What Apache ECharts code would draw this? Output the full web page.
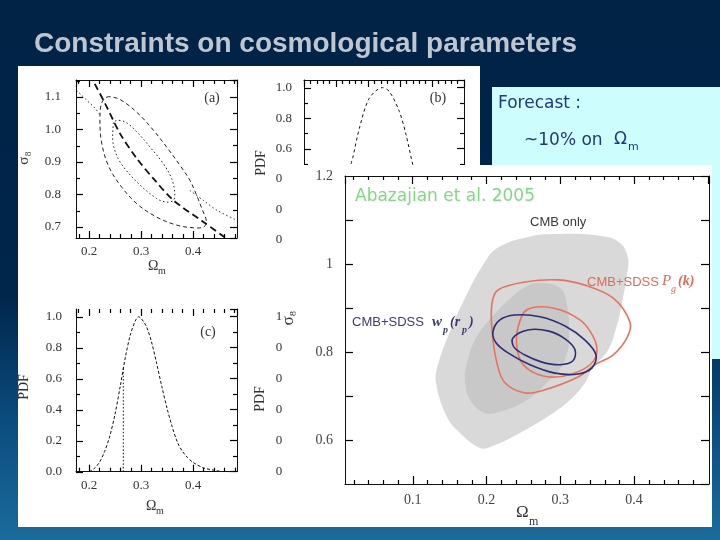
<!DOCTYPE html>
<html><head><meta charset="utf-8">
<script src="https://cdn.jsdelivr.net/npm/echarts@6/dist/echarts.min.js"></script>
<style>html,body{margin:0;padding:0;background:#002448;}#c{width:720px;height:540px;}</style>
</head><body><div id="c"></div>
<script>
// ================= DATA =================
const slideTitle = 'Constraints on cosmological parameters';
const forecastLine1 = 'Forecast :';
const forecastLine2 = '~10% on ';
const sourceLabel = 'Abazajian et al. 2005';

// Panel (a): sigma8 vs Omega_m
const aDegenOm = [0.211,0.231,0.260,0.292,0.324,0.362,0.420,0.465];
const aDegenS8 = [1.140,1.079,0.986,0.910,0.848,0.782,0.715,0.663];
const aOuterOm = [0.234,0.253,0.272,0.298,0.324,0.349,0.375,0.394,0.407,0.417,0.426,0.420,0.401,0.369,0.330,0.292,0.260,0.237,0.224,0.221,0.224];
const aOuterS8 = [1.099,1.096,1.079,1.043,0.997,0.946,0.889,0.843,0.797,0.756,0.715,0.699,0.697,0.705,0.730,0.771,0.828,0.889,0.961,1.033,1.079];
const aInnerOm = [0.250,0.269,0.292,0.317,0.343,0.359,0.365,0.362,0.349,0.330,0.292,0.260,0.247,0.246];
const aInnerS8 = [1.025,1.023,0.992,0.946,0.894,0.848,0.802,0.781,0.776,0.787,0.838,0.899,0.951,0.997];
const aTailUpOm = [0.176,0.196,0.212,0.222];
const aTailUpS8 = [1.120,1.089,1.064,1.043];
const aTailDnOm = [0.394,0.420,0.446,0.484];
const aTailDnS8 = [0.812,0.781,0.751,0.720];

// Panel (b): PDF vs sigma8 (visible part)
const bS8  = [0.745,0.748,0.752,0.773,0.804,0.845,0.867,0.898,0.919,0.940,0.945];
const bPdf = [0.46,0.508,0.536,0.733,0.93,1.0,0.974,0.843,0.69,0.493,0.46];

// Panel (c): PDF vs Omega_m
const cOm  = [0.20,0.21,0.22,0.23,0.24,0.25,0.26,0.27,0.28,0.29,0.295,0.30,0.31,0.32,0.33,0.34,0.35,0.36,0.37,0.38,0.39,0.40,0.42,0.44,0.46,0.48];
const cPdf = [0,0.02,0.06,0.13,0.23,0.37,0.55,0.74,0.89,0.98,1.0,0.99,0.94,0.84,0.70,0.55,0.41,0.29,0.19,0.13,0.09,0.06,0.025,0.01,0.0,0.0];
const cMarkOm = [0.266,0.266];
const cMarkPdf = [0,0.68];

// Overlay (Abazajian et al. 2005): sigma8 vs Omega_m
const grayOuterOm = [0.2955,0.3538,0.3809,0.3918,0.3904,0.3850,0.3768,0.3633,0.3443,0.3336,0.3132,0.2820,0.2454,0.2048,0.1912,0.1641,0.1465,0.1316,0.1343,0.1505,0.1709,0.1953,0.2142,0.2549];
const grayOuterS8 = [1.068,1.064,1.048,1.014,0.975,0.923,0.861,0.800,0.766,0.730,0.691,0.652,0.616,0.584,0.582,0.616,0.652,0.730,0.771,0.846,0.923,0.998,1.036,1.061];
const grayInnerOm = [0.2698,0.2996,0.3091,0.3119,0.3064,0.2969,0.2820,0.2549,0.2183,0.1980,0.1777,0.1709,0.1736,0.1844,0.2075,0.2346,0.2522];
const grayInnerS8 = [0.957,0.946,0.907,0.827,0.782,0.755,0.730,0.691,0.664,0.661,0.691,0.736,0.775,0.827,0.880,0.925,0.948];
const redOuterOm = [0.2156,0.2522,0.2969,0.3335,0.3714,0.3945,0.3904,0.3714,0.3470,0.3240,0.2793,0.2522,0.2251,0.2142,0.2075,0.2075];
const redOuterS8 = [0.941,0.959,0.964,0.952,0.923,0.868,0.832,0.793,0.771,0.743,0.714,0.707,0.730,0.775,0.850,0.911];
const redInnerOm = [0.2549,0.2901,0.3267,0.3443,0.3497,0.3403,0.3159,0.2888,0.2657,0.2481,0.2413,0.2427];
const redInnerS8 = [0.896,0.900,0.873,0.836,0.800,0.771,0.750,0.743,0.752,0.775,0.811,0.855];
const blueOuterOm = [0.2088,0.2183,0.2387,0.2726,0.3065,0.3336,0.3485,0.3431,0.3241,0.2929,0.2590,0.2292,0.2129];
const blueOuterS8 = [0.846,0.873,0.884,0.880,0.859,0.827,0.793,0.764,0.750,0.752,0.771,0.798,0.821];
const blueInnerOm = [0.2359,0.2563,0.2834,0.3065,0.3200,0.3173,0.2996,0.2752,0.2522,0.2373];
const blueInnerS8 = [0.832,0.850,0.848,0.830,0.805,0.780,0.771,0.777,0.793,0.811];

// Tick labels and tick marks
const omTicksPanel = [0.2,0.3,0.4];
const omMinorPanel = [0.18,0.22,0.24,0.26,0.28,0.32,0.34,0.36,0.38,0.42,0.44,0.46,0.48];
const s8TicksPanel = [0.7,0.8,0.9,1.0,1.1];
const s8MinorPanel = [0.75,0.85,0.95,1.05,1.15];
const pdfTicks = [0,0.2,0.4,0.6,0.8,1.0];
const pdfMinor = [0.1,0.3,0.5,0.7,0.9];
const s8TicksPdf = [0.7,0.8,0.9,1.0];
const omTicksBig = [0.1,0.2,0.3,0.4];
const omMinorBig = [0.02,0.04,0.06,0.08,0.12,0.14,0.16,0.18,0.22,0.24,0.26,0.28,0.32,0.34,0.36,0.38,0.42,0.44,0.46,0.48];
const s8TicksBig = [0.6,0.8,1.0,1.2];
const s8TickMarksBig = [0.6,0.7,0.8,0.9,1.0,1.1];

// ================= CHART =================
const zip = (xs, ys) => xs.map((x, i) => [x, ys[i]]);
const SERIF = "'Liberation Serif', 'DejaVu Serif', serif";
const SANS = "'Liberation Sans', Arial, sans-serif";
const DJ = "'DejaVu Sans', sans-serif";

const grids = [
  {left: 76, top: 80, width: 161, height: 158},
  {left: 304, top: 80, width: 160, height: 160},
  {left: 76, top: 309, width: 161, height: 162.7},
  {left: 304, top: 309, width: 160, height: 162.7},
  {left: 345, top: 176, width: 364, height: 308}
];

function fmt(list, f) {
  return v => list.some(t => Math.abs(t - v) < 1e-6) ? f(v) : '';
}
const f1 = v => v.toFixed(1);
const fBig = v => String(+v.toFixed(1));

// per direction per grid: [near axis (line + labels), far axis (line + inward ticks)]
function axisSet(dir, g, min, max, o) {
  const base = {type: 'value', gridIndex: g, min: min, max: max, z: o.z, splitLine: {show: false}};
  if (o.interval !== undefined) base.interval = o.interval;
  if (o.splitNumber !== undefined) base.splitNumber = o.splitNumber;
  const lineOn = {show: true, onZero: false, lineStyle: {color: '#111', width: 1}};
  const near = Object.assign({}, base, {
    position: dir === 'x' ? 'bottom' : 'left',
    axisLine: lineOn, axisTick: {show: false}, minorTick: {show: false},
    axisLabel: o.labels ? {
      show: true, margin: o.margin, color: o.labelColor || '#333',
      fontFamily: SERIF, fontSize: o.fontSize || 13, formatter: fmt(o.labels, o.f || f1)
    } : {show: false}
  });
  const far = Object.assign({}, base, {
    position: dir === 'x' ? 'top' : 'right',
    axisLine: o.hideFarLine ? {show: false, onZero: false} : lineOn,
    axisTick: {show: true, inside: true, length: o.tick || 7, lineStyle: {color: '#000', width: 1.2}},
    minorTick: {show: !!o.minor, splitNumber: o.minor || 5, length: 4, lineStyle: {color: '#000', width: 1.2}},
    axisLabel: {show: false}
  });
  return [near, far];
}

const xAxes = [].concat(
  axisSet('x', 0, 0.175, 0.4846, {z: 2, splitNumber: 3, minor: 5, labels: omTicksPanel, margin: 7}),
  axisSet('x', 1, 0.6, 1.1, {z: 2, interval: 0.1, minor: 5}),
  axisSet('x', 2, 0.175, 0.4846, {z: 2, splitNumber: 3, minor: 5, labels: omTicksPanel, margin: 7, hideFarLine: true}),
  axisSet('x', 3, 0.6, 1.1, {z: 2, interval: 0.1, minor: 5}),
  axisSet('x', 4, 0.0083, 0.5016, {z: 6, splitNumber: 5, minor: 5, tick: 8, labels: omTicksBig, margin: 9, fontSize: 14, labelColor: '#444'})
);
const yAxes = [].concat(
  axisSet('y', 0, 0.6655, 1.1517, {z: 2, splitNumber: 5, minor: 2, labels: s8TicksPanel, margin: 15}),
  axisSet('y', 1, 0, 1.05, {z: 2, interval: 0.2, minor: 2, labels: pdfTicks, margin: 12}),
  axisSet('y', 2, 0, 1.05, {z: 2, interval: 0.2, minor: 2, labels: pdfTicks, margin: 14}),
  axisSet('y', 3, 0, 1.05, {z: 2, interval: 0.2, minor: 2, labels: pdfTicks, margin: 12}),
  axisSet('y', 4, 0.5, 1.2, {z: 6, interval: 0.1, tick: 8, labels: s8TicksBig, margin: 12, fontSize: 14, labelColor: '#444', f: fBig})
);
const AX = g => 2 * g;

function shape(pts, g, z, style, closed, smooth) {
  return {
    type: 'custom', xAxisIndex: AX(g), yAxisIndex: AX(g), z: z, silent: true, clip: false,
    data: [pts[0]],
    renderItem: function (params, api) {
      const points = pts.map(p => api.coord(p));
      return {type: closed ? 'polygon' : 'polyline', shape: {points: points, smooth: smooth || 0}, style: style};
    }
  };
}
function curve(xs, ys, g, z, dash, width) {
  return {
    type: 'line', xAxisIndex: AX(g), yAxisIndex: AX(g), z: z, silent: true,
    data: zip(xs, ys), showSymbol: false, symbol: 'none', smooth: 0.3,
    lineStyle: {color: '#111', width: width || 1, type: dash}
  };
}
// inward tick marks on the bottom and left edges, placed through the axes' scales
function edgeTicks(g, z, xMaj, xMin, yMaj, yMin, lenMaj) {
  const yRef = yMaj[0], xRef = xMaj[0];
  return {
    type: 'custom', xAxisIndex: AX(g), yAxisIndex: AX(g), z: z, silent: true, clip: false,
    data: [[xRef, yRef]],
    renderItem: function (params, api) {
      const cs = params.coordSys;
      const bottom = cs.y + cs.height, left = cs.x;
      const kids = [];
      const st = {stroke: '#000', lineWidth: 1.2};
      const vx = (v, len) => {
        const x = Math.round(api.coord([v, yRef])[0]) + 0.5;
        kids.push({type: 'line', shape: {x1: x, y1: bottom, x2: x, y2: bottom - len}, style: st});
      };
      const hy = (v, len) => {
        const y = Math.round(api.coord([xRef, v])[1]) + 0.5;
        kids.push({type: 'line', shape: {x1: left, y1: y, x2: left + len, y2: y}, style: st});
      };
      xMaj.forEach(v => vx(v, lenMaj));
      xMin.forEach(v => vx(v, 4));
      yMaj.forEach(v => hy(v, lenMaj));
      yMin.forEach(v => hy(v, 4));
      return {type: 'group', children: kids};
    }
  };
}
const line = (c, w, dash) => ({fill: 'none', stroke: c, lineWidth: w, lineDash: dash || null});

const series = [
  // panel (a)
  shape(zip(aOuterOm, aOuterS8), 0, 3, line('#222', 1, [4, 3]), true, 0.35),
  shape(zip(aInnerOm, aInnerS8), 0, 3, line('#222', 1, [1.5, 2.5]), true, 0.35),
  shape(zip(aDegenOm, aDegenS8), 0, 3, line('#111', 1.8, [7, 4]), false, 0.3),
  shape(zip(aTailUpOm, aTailUpS8), 0, 3, line('#333', 1, [1.5, 2.5]), false, 0.3),
  shape(zip(aTailDnOm, aTailDnS8), 0, 3, line('#333', 1, [1.5, 2.5]), false, 0.3),
  edgeTicks(0, 4, omTicksPanel, omMinorPanel, s8TicksPanel, s8MinorPanel, 7),
  // panel (b)
  curve(bS8, bPdf, 1, 3, [3, 3], 1),
  edgeTicks(1, 4, s8TicksPdf, [], pdfTicks, pdfMinor, 7),
  // panel (c)
  curve(cOm, cPdf, 2, 3, [3, 2], 1),
  curve(cMarkOm, cMarkPdf, 2, 3, [1.5, 2], 1),
  edgeTicks(2, 4, omTicksPanel, omMinorPanel, pdfTicks, pdfMinor, 7),
  // overlay
  shape(zip(grayOuterOm, grayOuterS8), 4, 7, {fill: '#d9d9d9', stroke: null}, true, 0.4),
  shape(zip(grayInnerOm, grayInnerS8), 4, 8, {fill: '#c8c8c8', stroke: null}, true, 0.4),
  shape(zip(redOuterOm, redOuterS8), 4, 9, line('#e8735c', 1.6), true, 0.35),
  shape(zip(redInnerOm, redInnerS8), 4, 9, line('#e8735c', 1.6), true, 0.35),
  shape(zip(blueOuterOm, blueOuterS8), 4, 9, line('#2d2d7a', 1.6), true, 0.35),
  shape(zip(blueInnerOm, blueInnerS8), 4, 9, line('#2d2d7a', 1.6), true, 0.35),
  edgeTicks(4, 9, omTicksBig, omMinorBig, s8TickMarksBig, [], 8)
];

function txt(text, x, y, font, fill, z, opts) {
  opts = opts || {};
  const align = opts.align || 'left';
  return {
    type: 'text', x: x, y: y, z: z, rotation: opts.rotation || 0, silent: true,
    style: {text: text, font: font, fill: fill, textAlign: align, align: align,
            textVerticalAlign: 'middle', verticalAlign: 'middle'}
  };
}

const elements = [
  {type: 'rect', z: 0, silent: true, shape: {x: 18, y: 66, width: 462, height: 461}, style: {fill: '#ffffff'}},
  {type: 'rect', z: 0, silent: true, shape: {x: 492, y: 87, width: 228, height: 272}, style: {fill: '#cdfdfd'}},
  txt(slideTitle, 34, 44, 'bold 28px ' + SANS, '#bfc6ce', 1),
  txt(forecastLine1, 498, 104, '17px ' + DJ, '#203a7a', 1),
  txt(forecastLine2, 524, 141, '17px ' + DJ, '#203a7a', 1),
  txt('Ω', 614, 140, '17px ' + DJ, '#203a7a', 1),
  txt('m', 628, 147, '11px ' + DJ, '#203a7a', 1),
  // panel decorations
  txt('σ₈', 24, 158, '15px ' + SERIF, '#333', 3, {align: 'center', rotation: Math.PI / 2}),
  txt('Ω', 148, 266, '14px ' + SERIF, '#333', 3),
  txt('m', 158, 271, '10px ' + SERIF, '#333', 3),
  txt('(a)', 212, 98, '14px ' + SERIF, '#333', 3, {align: 'center'}),
  txt('PDF', 261, 163, '14px ' + SERIF, '#333', 3, {align: 'center', rotation: Math.PI / 2}),
  txt('(b)', 438, 98, '14px ' + SERIF, '#333', 3, {align: 'center'}),
  txt('PDF', 24, 387, '14px ' + SERIF, '#333', 3, {align: 'center', rotation: Math.PI / 2}),
  txt('Ω', 146, 506, '14px ' + SERIF, '#333', 3),
  txt('m', 156, 511, '10px ' + SERIF, '#333', 3),
  txt('(c)', 208, 332, '14px ' + SERIF, '#333', 3, {align: 'center'}),
  txt('PDF', 260, 399, '14px ' + SERIF, '#333', 3, {align: 'center', rotation: Math.PI / 2}),
  // overlay plot
  {type: 'rect', z: 5, silent: true, shape: {x: 282, y: 165, width: 430, height: 362}, style: {fill: '#ffffff'}},
  txt(sourceLabel, 355, 197, '17px ' + DJ, '#80d880', 10),
  txt('CMB only', 530, 222, '13px ' + SANS, '#3a3a3a', 10),
  txt('CMB+SDSS', 587, 282, '13px ' + SANS, '#e06a55', 10),
  txt('P', 662, 281, 'italic 15px ' + SERIF, '#e06a55', 10),
  txt('g', 671, 289, 'italic 10px ' + SERIF, '#e06a55', 10),
  txt('(k)', 678, 281, 'italic bold 14px ' + SERIF, '#e06a55', 10),
  txt('CMB+SDSS', 352, 322, '13px ' + SANS, '#3b3b70', 10),
  txt('w', 432, 322, 'italic bold 15px ' + SERIF, '#3b3b70', 10),
  txt('p', 443, 330, 'italic bold 10px ' + SERIF, '#3b3b70', 10),
  txt('(r', 450, 322, 'italic bold 14px ' + SERIF, '#3b3b70', 10),
  txt('p', 462, 330, 'italic bold 10px ' + SERIF, '#3b3b70', 10),
  txt(')', 469, 322, 'italic bold 14px ' + SERIF, '#3b3b70', 10),
  txt('σ₈', 289, 318, '17px ' + SERIF, '#333', 10, {align: 'center', rotation: Math.PI / 2}),
  txt('Ω', 516, 513, '17px ' + SERIF, '#333', 10),
  txt('m', 529, 522, '12px ' + SERIF, '#333', 10)
];

const option = {
  animation: false,
  backgroundColor: {
    type: 'linear', x: 0, y: 0, x2: 0, y2: 1,
    colorStops: [
      {offset: 0, color: '#002346'}, {offset: 0.55, color: '#00264c'},
      {offset: 0.78, color: '#0b4c7e'}, {offset: 1, color: '#1a6b9c'}
    ]
  },
  grid: grids.map(gr => Object.assign({outerBoundsMode: 'none'}, gr)),
  xAxis: xAxes, yAxis: yAxes, series: series,
  graphic: {elements: elements}
};

const chart = echarts.init(document.getElementById('c'), null, {renderer: 'canvas', width: 720, height: 540});
chart.setOption(option);
</script>
</body></html>
